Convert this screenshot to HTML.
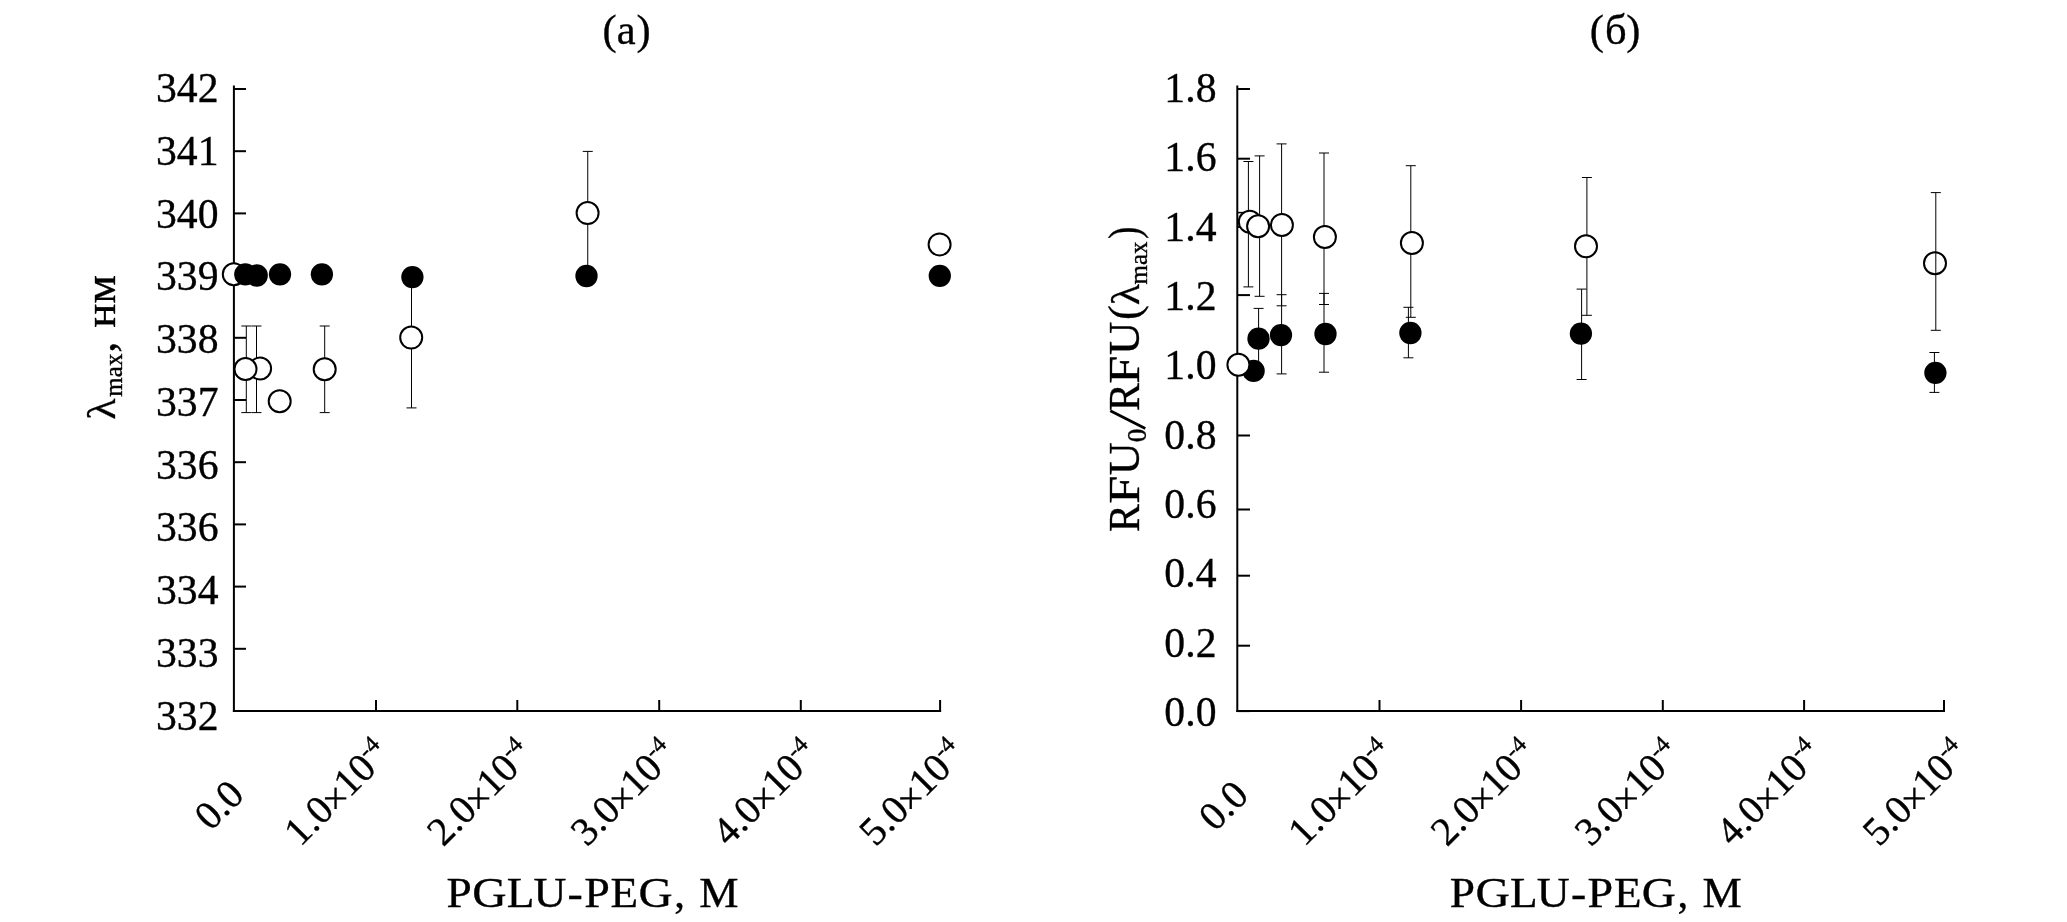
<!DOCTYPE html>
<html><head><meta charset="utf-8"><style>
html,body{margin:0;padding:0;background:#fff;}
svg{display:block;will-change:transform;}
text{font-family:"Liberation Serif",serif;fill:#000;stroke:#000;stroke-width:0.35px;}
.tk{font-size:43px;}
.tt{font-size:44px;}
.rl{font-size:34px;}
</style></head><body>
<svg width="2067" height="922" viewBox="0 0 2067 922">
<rect width="2067" height="922" fill="#fff"/>
<line x1="233.9" y1="85.5" x2="233.9" y2="712.1" stroke="#000" stroke-width="2.0"/>
<line x1="232.9" y1="711.1" x2="941.1" y2="711.1" stroke="#000" stroke-width="2.0"/>
<line x1="233.9" y1="89.0" x2="246" y2="89.0" stroke="#000" stroke-width="2.0"/>
<line x1="233.9" y1="151.2" x2="246" y2="151.2" stroke="#000" stroke-width="2.0"/>
<line x1="233.9" y1="213.4" x2="246" y2="213.4" stroke="#000" stroke-width="2.0"/>
<line x1="233.9" y1="275.6" x2="246" y2="275.6" stroke="#000" stroke-width="2.0"/>
<line x1="233.9" y1="337.8" x2="246" y2="337.8" stroke="#000" stroke-width="2.0"/>
<line x1="233.9" y1="400.0" x2="246" y2="400.0" stroke="#000" stroke-width="2.0"/>
<line x1="233.9" y1="462.20000000000005" x2="246" y2="462.20000000000005" stroke="#000" stroke-width="2.0"/>
<line x1="233.9" y1="524.4000000000001" x2="246" y2="524.4000000000001" stroke="#000" stroke-width="2.0"/>
<line x1="233.9" y1="586.6" x2="246" y2="586.6" stroke="#000" stroke-width="2.0"/>
<line x1="233.9" y1="648.8000000000001" x2="246" y2="648.8000000000001" stroke="#000" stroke-width="2.0"/>
<line x1="233.9" y1="711.0" x2="246" y2="711.0" stroke="#000" stroke-width="2.0"/>
<text transform="translate(218.5 102.0) scale(0.97 1)" class="tk" text-anchor="end">342</text>
<text transform="translate(218.5 164.75) scale(0.97 1)" class="tk" text-anchor="end">341</text>
<text transform="translate(218.5 227.5) scale(0.97 1)" class="tk" text-anchor="end">340</text>
<text transform="translate(218.5 290.25) scale(0.97 1)" class="tk" text-anchor="end">339</text>
<text transform="translate(218.5 353.0) scale(0.97 1)" class="tk" text-anchor="end">338</text>
<text transform="translate(218.5 415.75) scale(0.97 1)" class="tk" text-anchor="end">337</text>
<text transform="translate(218.5 478.5) scale(0.97 1)" class="tk" text-anchor="end">336</text>
<text transform="translate(218.5 541.25) scale(0.97 1)" class="tk" text-anchor="end">336</text>
<text transform="translate(218.5 604.0) scale(0.97 1)" class="tk" text-anchor="end">334</text>
<text transform="translate(218.5 666.75) scale(0.97 1)" class="tk" text-anchor="end">333</text>
<text transform="translate(218.5 729.5) scale(0.97 1)" class="tk" text-anchor="end">332</text>
<line x1="376" y1="700" x2="376" y2="712" stroke="#000" stroke-width="2.0"/>
<line x1="517.3" y1="700" x2="517.3" y2="712" stroke="#000" stroke-width="2.0"/>
<line x1="659.2" y1="700" x2="659.2" y2="712" stroke="#000" stroke-width="2.0"/>
<line x1="800.8" y1="700" x2="800.8" y2="712" stroke="#000" stroke-width="2.0"/>
<line x1="940.1" y1="700" x2="940.1" y2="712" stroke="#000" stroke-width="2.0"/>
<path d="M246.3 326V412.6M241.3 326H251.3M241.3 412.6H251.3" stroke="#000" stroke-width="1.0" fill="none"/>
<path d="M256.5 326V412.6M251.5 326H261.5M251.5 412.6H261.5" stroke="#000" stroke-width="1.0" fill="none"/>
<path d="M324.7 326V412.6M319.7 326H329.7M319.7 412.6H329.7" stroke="#000" stroke-width="1.0" fill="none"/>
<path d="M411.5 269V407.9M406.5 269H416.5M406.5 407.9H416.5" stroke="#000" stroke-width="1.0" fill="none"/>
<path d="M587.75 151.4V275M582.75 151.4H592.75M582.75 275H592.75" stroke="#000" stroke-width="1.0" fill="none"/>
<circle cx="233.8" cy="274.3" r="11.0" fill="#fff" stroke="#000" stroke-width="2.0"/>
<circle cx="245.3" cy="274.3" r="11.15" fill="#000"/>
<circle cx="256.7" cy="275.5" r="11.15" fill="#000"/>
<circle cx="280" cy="274.3" r="11.15" fill="#000"/>
<circle cx="321.9" cy="274.3" r="11.15" fill="#000"/>
<circle cx="412.4" cy="277.1" r="11.15" fill="#000"/>
<circle cx="586.5" cy="276" r="11.15" fill="#000"/>
<circle cx="939.8" cy="275.8" r="11.15" fill="#000"/>
<circle cx="260.1" cy="368.5" r="11.0" fill="#fff" stroke="#000" stroke-width="2.0"/>
<circle cx="245.5" cy="369" r="11.0" fill="#fff" stroke="#000" stroke-width="2.0"/>
<circle cx="279.7" cy="401.2" r="11.0" fill="#fff" stroke="#000" stroke-width="2.0"/>
<circle cx="324.7" cy="369.2" r="11.0" fill="#fff" stroke="#000" stroke-width="2.0"/>
<circle cx="411.2" cy="337.6" r="11.0" fill="#fff" stroke="#000" stroke-width="2.0"/>
<circle cx="587.6" cy="213.1" r="11.0" fill="#fff" stroke="#000" stroke-width="2.0"/>
<circle cx="939.6" cy="244.4" r="11.0" fill="#fff" stroke="#000" stroke-width="2.0"/>
<line x1="1237.3" y1="85.5" x2="1237.3" y2="712.1" stroke="#000" stroke-width="2.0"/>
<line x1="1236.3" y1="711.1" x2="1945" y2="711.1" stroke="#000" stroke-width="2.0"/>
<line x1="1237.3" y1="89" x2="1250" y2="89" stroke="#000" stroke-width="2.0"/>
<line x1="1237.3" y1="158.7" x2="1250" y2="158.7" stroke="#000" stroke-width="2.0"/>
<line x1="1237.3" y1="226.9" x2="1250" y2="226.9" stroke="#000" stroke-width="2.0"/>
<line x1="1237.3" y1="295.1" x2="1250" y2="295.1" stroke="#000" stroke-width="2.0"/>
<line x1="1237.3" y1="365.3" x2="1250" y2="365.3" stroke="#000" stroke-width="2.0"/>
<line x1="1237.3" y1="435.5" x2="1250" y2="435.5" stroke="#000" stroke-width="2.0"/>
<line x1="1237.3" y1="509.5" x2="1250" y2="509.5" stroke="#000" stroke-width="2.0"/>
<line x1="1237.3" y1="575.7" x2="1250" y2="575.7" stroke="#000" stroke-width="2.0"/>
<line x1="1237.3" y1="645.7" x2="1250" y2="645.7" stroke="#000" stroke-width="2.0"/>
<line x1="1237.3" y1="711.1" x2="1250" y2="711.1" stroke="#000" stroke-width="2.0"/>
<text transform="translate(1216.5 102.0) scale(0.97 1)" class="tk" text-anchor="end">1.8</text>
<text transform="translate(1216.5 171.33) scale(0.97 1)" class="tk" text-anchor="end">1.6</text>
<text transform="translate(1216.5 240.66) scale(0.97 1)" class="tk" text-anchor="end">1.4</text>
<text transform="translate(1216.5 309.99) scale(0.97 1)" class="tk" text-anchor="end">1.2</text>
<text transform="translate(1216.5 379.32) scale(0.97 1)" class="tk" text-anchor="end">1.0</text>
<text transform="translate(1216.5 448.65) scale(0.97 1)" class="tk" text-anchor="end">0.8</text>
<text transform="translate(1216.5 517.98) scale(0.97 1)" class="tk" text-anchor="end">0.6</text>
<text transform="translate(1216.5 587.31) scale(0.97 1)" class="tk" text-anchor="end">0.4</text>
<text transform="translate(1216.5 656.64) scale(0.97 1)" class="tk" text-anchor="end">0.2</text>
<text transform="translate(1216.5 725.97) scale(0.97 1)" class="tk" text-anchor="end">0.0</text>
<line x1="1379.5" y1="700" x2="1379.5" y2="712" stroke="#000" stroke-width="2.0"/>
<line x1="1521.1" y1="700" x2="1521.1" y2="712" stroke="#000" stroke-width="2.0"/>
<line x1="1662.8" y1="700" x2="1662.8" y2="712" stroke="#000" stroke-width="2.0"/>
<line x1="1804.1" y1="700" x2="1804.1" y2="712" stroke="#000" stroke-width="2.0"/>
<line x1="1944" y1="700" x2="1944" y2="712" stroke="#000" stroke-width="2.0"/>
<path d="M1248.4 161.5V286.9M1243.4 161.5H1253.4M1243.4 286.9H1253.4" stroke="#000" stroke-width="1.0" fill="none"/>
<path d="M1259.6 155.9V296.3M1254.6 155.9H1264.6M1254.6 296.3H1264.6" stroke="#000" stroke-width="1.0" fill="none"/>
<path d="M1281.6 143.9V305.8M1276.6 143.9H1286.6M1276.6 305.8H1286.6" stroke="#000" stroke-width="1.0" fill="none"/>
<path d="M1258.6 308.4V369M1253.6 308.4H1263.6M1253.6 369H1263.6" stroke="#000" stroke-width="1.0" fill="none"/>
<path d="M1281.6 294.7V373.9M1276.6 294.7H1286.6M1276.6 373.9H1286.6" stroke="#000" stroke-width="1.0" fill="none"/>
<path d="M1324.0 153V304.5M1319.0 153H1329.0M1319.0 304.5H1329.0" stroke="#000" stroke-width="1.0" fill="none"/>
<path d="M1324.0 293.4V372.2M1319.0 293.4H1329.0M1319.0 372.2H1329.0" stroke="#000" stroke-width="1.0" fill="none"/>
<path d="M1410.8 165.7V317.3M1405.8 165.7H1415.8M1405.8 317.3H1415.8" stroke="#000" stroke-width="1.0" fill="none"/>
<path d="M1408.4 307.3V357.8M1403.4 307.3H1413.4M1403.4 357.8H1413.4" stroke="#000" stroke-width="1.0" fill="none"/>
<path d="M1586.9 177.5V315.3M1581.9 177.5H1591.9M1581.9 315.3H1591.9" stroke="#000" stroke-width="1.0" fill="none"/>
<path d="M1581.6 289.1V379.5M1576.6 289.1H1586.6M1576.6 379.5H1586.6" stroke="#000" stroke-width="1.0" fill="none"/>
<path d="M1934.4 352.5V392.4M1929.4 352.5H1939.4M1929.4 392.4H1939.4" stroke="#000" stroke-width="1.0" fill="none"/>
<line x1="1237.3" y1="212.6" x2="1243.5" y2="212.6" stroke="#000" stroke-width="1.5"/>
<circle cx="1253.6" cy="370.9" r="11.15" fill="#000"/>
<circle cx="1238.4" cy="364.7" r="11.0" fill="#fff" stroke="#000" stroke-width="2.0"/>
<circle cx="1258.5" cy="338.7" r="11.15" fill="#000"/>
<circle cx="1281" cy="335.1" r="11.15" fill="#000"/>
<circle cx="1325.5" cy="334" r="11.15" fill="#000"/>
<circle cx="1410.4" cy="333" r="11.15" fill="#000"/>
<circle cx="1580.9" cy="333.6" r="11.15" fill="#000"/>
<circle cx="1935.4" cy="372.8" r="11.15" fill="#000"/>
<circle cx="1249.8" cy="221.7" r="11.0" fill="#fff" stroke="#000" stroke-width="2.0"/>
<circle cx="1258.1" cy="226.2" r="11.0" fill="#fff" stroke="#000" stroke-width="2.0"/>
<circle cx="1281.9" cy="225" r="11.0" fill="#fff" stroke="#000" stroke-width="2.0"/>
<circle cx="1324.9" cy="237" r="11.0" fill="#fff" stroke="#000" stroke-width="2.0"/>
<circle cx="1411.9" cy="243" r="11.0" fill="#fff" stroke="#000" stroke-width="2.0"/>
<circle cx="1586" cy="246.2" r="11.0" fill="#fff" stroke="#000" stroke-width="2.0"/>
<circle cx="1935" cy="263.3" r="11.0" fill="none" stroke="#000" stroke-width="2.0"/>
<path d="M1935.8 192.6V330.3M1930.8 192.6H1940.8M1930.8 330.3H1940.8" stroke="#000" stroke-width="1.0" fill="none"/>
<text transform="translate(604.30 0) scale(1 1)" x="-1.87" y="43.60" font-size="42.5">(</text><text transform="translate(618.30 0) scale(1 1)" x="-1.49" y="43.60" font-size="42.5">a</text><text transform="translate(637.80 0) scale(1 1)" x="-1.37" y="43.60" font-size="42.5">)</text>
<text transform="translate(1591.60 0) scale(1 1)" x="-1.87" y="43.60" font-size="42.5">(</text><text transform="translate(1606.90 0) scale(1 1)" x="-1.99" y="43.60" font-size="42.5">б</text><text transform="translate(1627.70 0) scale(1 1)" x="-1.37" y="43.60" font-size="42.5">)</text>
<text transform="translate(447.70 0) scale(1.067 1)" x="-1.22" y="906.90" font-size="42.5">P</text><text transform="translate(474.10 0) scale(1.119 1)" x="-1.74" y="906.90" font-size="42.5">G</text><text transform="translate(508.10 0) scale(1.064 1)" x="-1.22" y="906.90" font-size="42.5">L</text><text transform="translate(534.40 0) scale(1.072 1)" x="-0.89" y="906.90" font-size="42.5">U</text><text transform="translate(569.30 0) scale(1.078 1)" x="-1.58" y="906.90" font-size="42.5">-</text><text transform="translate(585.50 0) scale(1.082 1)" x="-1.22" y="906.90" font-size="42.5">P</text><text transform="translate(611.90 0) scale(1.061 1)" x="-1.22" y="906.90" font-size="42.5">E</text><text transform="translate(640.30 0) scale(1.111 1)" x="-1.74" y="906.90" font-size="42.5">G</text><text transform="translate(675.80 0) scale(1.011 1)" x="-1.62" y="906.90" font-size="42.5">,</text><text transform="translate(700.50 0) scale(1.039 1)" x="-1.22" y="906.90" font-size="42.5">M</text>
<text transform="translate(1451.00 0) scale(1.067 1)" x="-1.22" y="906.90" font-size="42.5">P</text><text transform="translate(1477.40 0) scale(1.119 1)" x="-1.74" y="906.90" font-size="42.5">G</text><text transform="translate(1511.40 0) scale(1.064 1)" x="-1.22" y="906.90" font-size="42.5">L</text><text transform="translate(1537.70 0) scale(1.072 1)" x="-0.89" y="906.90" font-size="42.5">U</text><text transform="translate(1572.60 0) scale(1.078 1)" x="-1.58" y="906.90" font-size="42.5">-</text><text transform="translate(1588.80 0) scale(1.082 1)" x="-1.22" y="906.90" font-size="42.5">P</text><text transform="translate(1615.20 0) scale(1.061 1)" x="-1.22" y="906.90" font-size="42.5">E</text><text transform="translate(1643.60 0) scale(1.111 1)" x="-1.74" y="906.90" font-size="42.5">G</text><text transform="translate(1679.10 0) scale(1.011 1)" x="-1.62" y="906.90" font-size="42.5">,</text><text transform="translate(1703.80 0) scale(1.039 1)" x="-1.22" y="906.90" font-size="42.5">M</text>
<g transform="translate(115 420) rotate(-90)"><g transform="scale(1 0.91)"><text x="0.14" y="0.00" font-size="44" >λ</text></g><text x="23.38" y="7.00" font-size="25" >max</text><text x="67.32" y="0.00" font-size="44" >,</text><text x="92.39" y="-0.30" font-size="45" >нм</text></g>
<g transform="translate(1139 540) rotate(-90)"><text transform="translate(9.30 0.00) scale(0.95 1)" x="-1.27" y="0" font-size="44">R</text><text transform="translate(37.70 0.00) scale(1.15 1)" x="-1.27" y="0" font-size="44">F</text><text transform="translate(65.70 0.00) scale(1.04 1)" x="-0.92" y="0" font-size="44">U</text><text transform="translate(98.70 7.00) scale(1 1)" x="-1.03" y="0" font-size="27">0</text><text transform="translate(130.20 0.00) scale(0.95 1)" x="-1.27" y="0" font-size="44">R</text><text transform="translate(157.60 0.00) scale(1.15 1)" x="-1.27" y="0" font-size="44">F</text><text transform="translate(186.00 0.00) scale(1.05 1)" x="-0.92" y="0" font-size="44">U</text><text transform="translate(222.00 0.00) scale(1 1)" x="-1.93" y="0" font-size="44">(</text><text transform="translate(236.00 0.00) scale(1 0.91)" x="-1.16" y="0" font-size="44">λ</text><text transform="translate(302.10 0.00) scale(0.85 1)" x="-1.42" y="0" font-size="44">)</text><text x="255.48" y="7.60" font-size="25" >max</text><line x1="111.40" y1="6.30" x2="129.20" y2="-28.70" stroke="#000" stroke-width="2.8"/></g>
<text transform="translate(246 796.5) rotate(-45)" font-size="40" text-anchor="end">0.0</text>
<text transform="translate(1250.3 797.1) rotate(-45)" font-size="40" text-anchor="end">0.0</text>
<text transform="translate(391.6 756.2) rotate(-45)" font-size="40" text-anchor="end">1.0<tspan dx="-1.5" dy="3.5">×</tspan><tspan dx="-1.5" dy="-3.5">10</tspan><tspan font-size="24" dx="-0.5" dy="-15">-4</tspan></text>
<text transform="translate(1395.5 756.2) rotate(-45)" font-size="40" text-anchor="end">1.0<tspan dx="-1.5" dy="3.5">×</tspan><tspan dx="-1.5" dy="-3.5">10</tspan><tspan font-size="24" dx="-0.5" dy="-15">-4</tspan></text>
<text transform="translate(534.5 756.2) rotate(-45)" font-size="40" text-anchor="end">2.0<tspan dx="-1.5" dy="3.5">×</tspan><tspan dx="-1.5" dy="-3.5">10</tspan><tspan font-size="24" dx="-0.5" dy="-15">-4</tspan></text>
<text transform="translate(1538.3 756.2) rotate(-45)" font-size="40" text-anchor="end">2.0<tspan dx="-1.5" dy="3.5">×</tspan><tspan dx="-1.5" dy="-3.5">10</tspan><tspan font-size="24" dx="-0.5" dy="-15">-4</tspan></text>
<text transform="translate(678.3 756.2) rotate(-45)" font-size="40" text-anchor="end">3.0<tspan dx="-1.5" dy="3.5">×</tspan><tspan dx="-1.5" dy="-3.5">10</tspan><tspan font-size="24" dx="-0.5" dy="-15">-4</tspan></text>
<text transform="translate(1682.2 756.2) rotate(-45)" font-size="40" text-anchor="end">3.0<tspan dx="-1.5" dy="3.5">×</tspan><tspan dx="-1.5" dy="-3.5">10</tspan><tspan font-size="24" dx="-0.5" dy="-15">-4</tspan></text>
<text transform="translate(819.8 756.2) rotate(-45)" font-size="40" text-anchor="end">4.0<tspan dx="-1.5" dy="3.5">×</tspan><tspan dx="-1.5" dy="-3.5">10</tspan><tspan font-size="24" dx="-0.5" dy="-15">-4</tspan></text>
<text transform="translate(1823.5 756.2) rotate(-45)" font-size="40" text-anchor="end">4.0<tspan dx="-1.5" dy="3.5">×</tspan><tspan dx="-1.5" dy="-3.5">10</tspan><tspan font-size="24" dx="-0.5" dy="-15">-4</tspan></text>
<text transform="translate(966.8 756.2) rotate(-45)" font-size="40" text-anchor="end">5.0<tspan dx="-1.5" dy="3.5">×</tspan><tspan dx="-1.5" dy="-3.5">10</tspan><tspan font-size="24" dx="-0.5" dy="-15">-4</tspan></text>
<text transform="translate(1970.2 756.2) rotate(-45)" font-size="40" text-anchor="end">5.0<tspan dx="-1.5" dy="3.5">×</tspan><tspan dx="-1.5" dy="-3.5">10</tspan><tspan font-size="24" dx="-0.5" dy="-15">-4</tspan></text>
</svg>
</body></html>
